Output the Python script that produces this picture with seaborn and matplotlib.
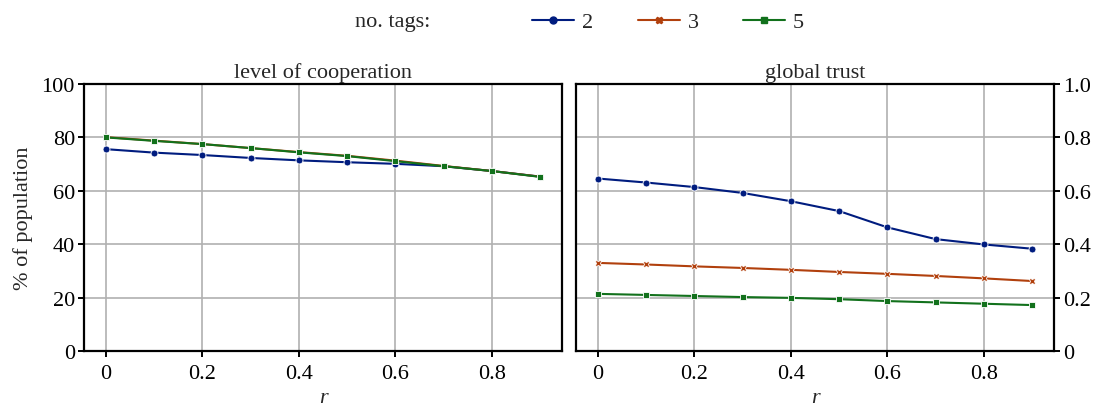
import numpy as np
import pandas as pd
import matplotlib
matplotlib.use("Agg")
import matplotlib.pyplot as plt
import seaborn as sns
from matplotlib.lines import Line2D
from matplotlib.colors import to_hex

r_values = [0.0, 0.1, 0.2, 0.3, 0.4, 0.5, 0.6, 0.7, 0.8, 0.9]
tag_levels = ["2", "3", "5"]

coop_2 = [75.6, 74.3, 73.4, 72.3, 71.4, 70.7, 70.1, 69.2, 67.4, 65.3]
coop_3 = [80.1, 78.8, 77.5, 76.0, 74.5, 73.1, 71.3, 69.3, 67.4, 65.3]
coop_5 = [80.0, 78.7, 77.5, 76.0, 74.4, 73.0, 71.1, 69.2, 67.4, 65.2]

trust_2 = [0.646, 0.631, 0.614, 0.592, 0.561, 0.524, 0.463, 0.419, 0.399, 0.383]
trust_3 = [0.330, 0.324, 0.317, 0.311, 0.304, 0.296, 0.289, 0.281, 0.272, 0.262]
trust_5 = [0.214, 0.210, 0.206, 0.202, 0.199, 0.194, 0.187, 0.182, 0.177, 0.172]

left_ticks_y = [0, 20, 40, 60, 80, 100]
right_ticks_y = [0, 0.2, 0.4, 0.6, 0.8, 1.0]
right_tick_labels = ["0", "0.2", "0.4", "0.6", "0.8", "1.0"]
x_ticks = [0, 0.2, 0.4, 0.6, 0.8]
x_tick_labels = ["0", "0.2", "0.4", "0.6", "0.8"]

rows = []
for tag, cs, ts in zip(tag_levels, [coop_2, coop_3, coop_5], [trust_2, trust_3, trust_5]):
    for r, c, t in zip(r_values, cs, ts):
        rows.append({"r": r, "tags": tag, "coop": c, "trust": t})
df = pd.DataFrame(rows)

sns.set_theme(style="ticks")
plt.rcParams["font.family"] = ["Liberation Serif", "DejaVu Serif"]
plt.rcParams["mathtext.fontset"] = "stix"

FS = 16
palette = sns.color_palette("dark", 3)
markers = ["o", "X", "s"]
msizes = [5, 5, 4.2]

fig = plt.figure(figsize=(10.93, 4.06), dpi=100)
W, H = 1093, 406
axL = fig.add_axes([84 / W, 1 - 352 / H, 478 / W, 267 / H])
axR = fig.add_axes([576 / W, 1 - 352 / H, 478 / W, 267 / H])

for ax, col in [(axL, "coop"), (axR, "trust")]:
    sns.lineplot(data=df, x="r", y=col, hue="tags", style="tags",
                 hue_order=tag_levels, style_order=tag_levels,
                 palette=palette, markers=markers, dashes=False,
                 markersize=5, markeredgecolor="white", markeredgewidth=0.6,
                 linewidth=1.5, ax=ax, legend=False)
    green = to_hex(palette[2])
    for ln in ax.lines:
        if to_hex(ln.get_color()) == green:
            ln.set_markersize(msizes[2])
    ax.grid(True, color="#b0b0b0", linewidth=1.2)
    ax.set_axisbelow(True)
    for s in ax.spines.values():
        s.set_color("black")
        s.set_linewidth(1.6)
    ax.tick_params(axis="both", colors="black", labelsize=FS, length=4, width=1.4,
                   direction="out", pad=2.5)
    ax.tick_params(axis="x", pad=5.5)
    ax.set_xticks(x_ticks)
    ax.set_xticklabels(x_tick_labels)
    ax.set_xlabel("r", fontsize=FS, fontstyle="italic", labelpad=3.5)

axL.set_ylim(0, 100)
axL.set_yticks(left_ticks_y)
axL.set_ylabel("% of population", fontsize=FS, labelpad=6)
axL.set_title("level of cooperation", fontsize=FS, pad=5)

axR.set_ylim(0, 1.0)
axR.set_yticks(right_ticks_y)
axR.set_yticklabels(right_tick_labels)
axR.yaxis.tick_right()
axR.yaxis.set_label_position("right")
axR.set_ylabel("")
axR.set_title("global trust", fontsize=FS, pad=5)

handles = [Line2D([], [], color=palette[i], marker=markers[i], markersize=msizes[i],
                  markeredgecolor=palette[i], linewidth=1.5) for i in range(3)]
fig.legend(handles, tag_levels, ncol=3, loc="center",
           bbox_to_anchor=(668 / W, 1 - 23 / H), frameon=False, fontsize=FS,
           handlelength=1.9, columnspacing=2.0, handletextpad=0.35,
           borderpad=0, borderaxespad=0)
fig.text(355 / W, 1 - 23 / H, "no. tags:", fontsize=FS, ha="left", va="center")

fig.savefig("out.png", dpi=100)
